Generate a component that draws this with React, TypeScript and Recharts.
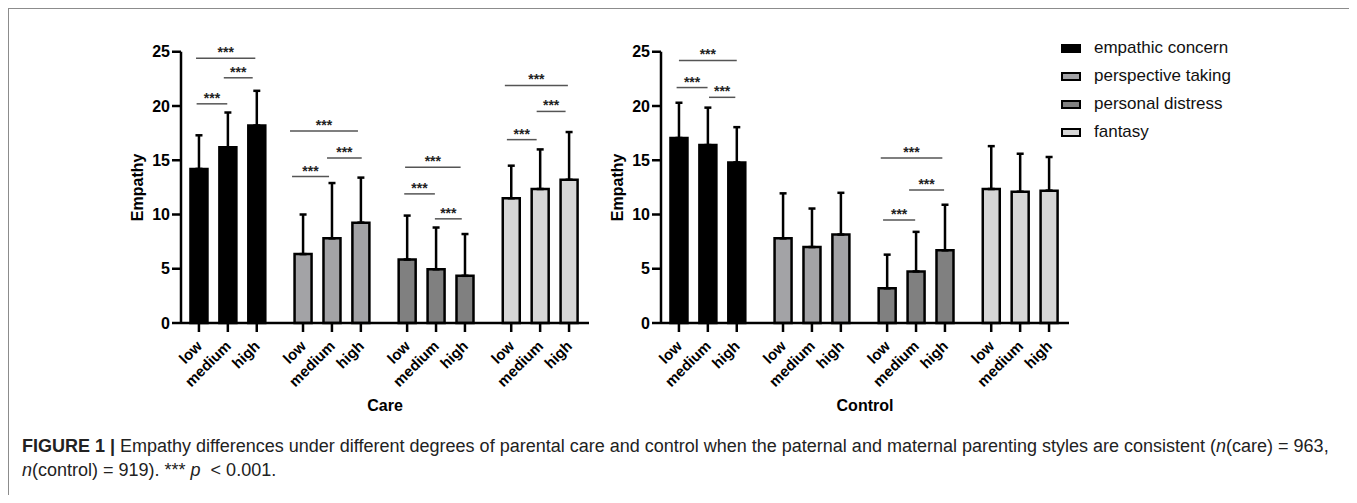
import React from 'react';
import { BarChart, Bar, XAxis, YAxis, ErrorBar, ReferenceLine, Label } from 'recharts';

// ---------- data ----------
const LEVELS = ['low', 'medium', 'high'];
const SUBSCALES = ['empathic concern', 'perspective taking', 'personal distress', 'fantasy'];
const KEYS = ['ec', 'pt', 'pd', 'fa'];
const COLORS = ['#000000', '#a3a3a6', '#808080', '#d6d6d6'];
const Y_TICKS = [0, 5, 10, 15, 20, 25];

// Care panel: rows = subscale, cols = low / medium / high
const CARE_MEANS = [
  [14.2, 16.2, 18.2],
  [6.35, 7.8, 9.25],
  [5.85, 4.95, 4.35],
  [11.5, 12.35, 13.2],
];
const CARE_SD = [
  [3.1, 3.2, 3.2],
  [3.65, 5.1, 4.15],
  [4.05, 3.85, 3.85],
  [3.0, 3.65, 4.4],
];
// Control panel
const CONTROL_MEANS = [
  [17.05, 16.4, 14.8],
  [7.8, 7.0, 8.15],
  [3.2, 4.75, 6.7],
  [12.35, 12.1, 12.2],
];
const CONTROL_SD = [
  [3.25, 3.45, 3.25],
  [4.15, 3.55, 3.85],
  [3.1, 3.65, 4.2],
  [3.95, 3.5, 3.1],
];
// significance brackets: [group, from (level units), to (level units), height]
const CARE_BRACKETS = [
  [0, -0.1, 1.95, 24.4], [0, 0.86, 1.86, 22.6], [0, -0.08, 0.98, 20.2],
  [1, -0.45, 1.9, 17.7], [1, 0.83, 2.03, 15.2], [1, -0.38, 0.9, 13.5],
  [2, -0.07, 1.85, 14.35], [2, -0.1, 0.96, 11.9], [2, 0.96, 1.89, 9.6],
  [3, -0.22, 1.96, 21.9], [3, 0.88, 1.88, 19.5], [3, -0.15, 0.88, 16.9],
];
const CONTROL_BRACKETS = [
  [0, 0.0, 2.0, 24.2], [0, -0.08, 0.99, 21.7], [0, 1.04, 1.95, 20.8],
  [2, -0.22, 1.91, 15.2], [2, 0.76, 1.97, 12.26], [2, -0.14, 0.97, 9.5],
];

// ---------- layout constants ----------
const GROUP_STEP = 3.6;
const X_DOMAIN: [number, number] = [-0.62, 13.49];
const FONT = '"Liberation Sans", Arial, Helvetica, sans-serif';

const pos = (g: number, i: number) => g * GROUP_STEP + i;

function buildRows(means: number[][], sds: number[][]) {
  const rows: any[] = [];
  means.forEach((m, g) => {
    m.forEach((v, i) => {
      rows.push({ pos: pos(g, i), [KEYS[g]]: v, [KEYS[g] + 'Err']: [0, sds[g][i]] });
    });
  });
  return rows;
}

const XTick = (props: any) => {
  const { x, y, index } = props;
  return (
    <g transform={`translate(${x},${y})`}>
      <text
        x={4}
        y={13}
        transform="rotate(-45 4 13)"
        textAnchor="end"
        fontFamily={FONT}
        fontWeight="bold"
        fontSize={15}
        fill="#000"
      >
        {LEVELS[index % 3]}
      </text>
    </g>
  );
};

function Panel({ means, sds, brackets, title, left }: any) {
  const rows = buildRows(means, sds);
  const ticks = rows.map((r) => r.pos);
  return (
    <div style={{ position: 'absolute', left, top: 0 }}>
      <BarChart
        width={600}
        height={420}
        data={rows}
        margin={{ top: 42.75, right: 20, left: 112, bottom: 46 }}
      >
        <XAxis
          type="number"
          dataKey="pos"
          domain={X_DOMAIN}
          ticks={ticks}
          interval={0}
          allowDataOverflow
          height={60}
          tickSize={9}
          axisLine={{ stroke: '#000', strokeWidth: 2.5 }}
          tickLine={{ stroke: '#000', strokeWidth: 2.5 }}
          tick={<XTick />}
        >
          <Label
            content={(p: any) => {
              const vb = p.viewBox;
              return (
                <text
                  x={vb.x + vb.width / 2}
                  y={vb.y + 82}
                  textAnchor="middle"
                  dominantBaseline="central"
                  fontFamily={FONT}
                  fontWeight="bold"
                  fontSize={16}
                  fill="#000"
                >
                  {title}
                </text>
              );
            }}
          />
        </XAxis>
        <YAxis
          type="number"
          domain={[0, 25]}
          ticks={Y_TICKS}
          interval={0}
          width={60}
          tickSize={9}
          axisLine={{ stroke: '#000', strokeWidth: 2.5 }}
          tickLine={{ stroke: '#000', strokeWidth: 2.5 }}
          tick={{ fontFamily: FONT, fontWeight: 'bold', fontSize: 16, fill: '#000' }}
        >
          <Label
            content={(p: any) => {
              const vb = p.viewBox;
              const cx = vb.x + 16;
              const cy = vb.y + vb.height / 2;
              return (
                <text
                  x={cx}
                  y={cy}
                  transform={`rotate(-90 ${cx} ${cy})`}
                  textAnchor="middle"
                  dominantBaseline="central"
                  fontFamily={FONT}
                  fontWeight="bold"
                  fontSize={16}
                  fill="#000"
                >
                  Empathy
                </text>
              );
            }}
          />
        </YAxis>
        {KEYS.map((k, g) => (
          <Bar
            key={k}
            dataKey={k}
            stackId="s"
            fill={COLORS[g]}
            stroke="#000"
            strokeWidth={2.5}
            barSize={17}
            isAnimationActive={false}
          >
            <ErrorBar dataKey={k + 'Err'} width={3.5} stroke="#000" strokeWidth={2.5} direction="y" />
          </Bar>
        ))}
        {brackets.map((b: number[], j: number) => (
          <ReferenceLine
            key={j}
            segment={[
              { x: pos(b[0], b[1]), y: b[3] },
              { x: pos(b[0], b[2]), y: b[3] },
            ]}
            stroke="#555"
            strokeWidth={1.5}
            ifOverflow="visible"
            label={{
              value: '***',
              position: 'top',
              offset: 1,
              fill: '#222',
              fontSize: 14,
              fontWeight: 'bold',
              fontFamily: FONT,
            }}
          />
        ))}
      </BarChart>
    </div>
  );
}

function LegendBox() {
  return (
    <div style={{ position: 'absolute', left: 1052, top: 25, fontFamily: FONT }}>
      {SUBSCALES.map((s, i) => (
        <div key={s} style={{ display: 'flex', alignItems: 'center', height: 28 }}>
          <div
            style={{
              width: 20,
              height: 9,
              boxSizing: 'border-box',
              border: '2.5px solid #000',
              background: COLORS[i],
              marginRight: 13,
            }}
          />
          <span style={{ fontSize: 17, color: '#111', whiteSpace: 'nowrap' }}>{s}</span>
        </div>
      ))}
    </div>
  );
}

export default function App() {
  return (
    <div
      style={{
        position: 'relative',
        width: 1347,
        height: 487,
        boxSizing: 'border-box',
        border: '1px solid #8c8c8c',
        borderBottom: 'none',
        background: '#fff',
        fontFamily: FONT,
        overflow: 'hidden',
      }}
    >
      <Panel means={CARE_MEANS} sds={CARE_SD} brackets={CARE_BRACKETS} title="Care" left={0} />
      <Panel means={CONTROL_MEANS} sds={CONTROL_SD} brackets={CONTROL_BRACKETS} title="Control" left={480} />
      <LegendBox />
      <div
        style={{
          position: 'absolute',
          left: 13,
          top: 425,
          fontSize: 18,
          lineHeight: '24px',
          color: '#222',
          whiteSpace: 'nowrap',
        }}
      >
        <b>FIGURE 1 |</b> Empathy differences under different degrees of parental care and control when the paternal and
        maternal parenting styles are consistent (<i>n</i>(care) = 963,
        <br />
        <i>n</i>(control) = 919). *** <i>p</i> &nbsp;&lt; 0.001.
      </div>
    </div>
  );
}
